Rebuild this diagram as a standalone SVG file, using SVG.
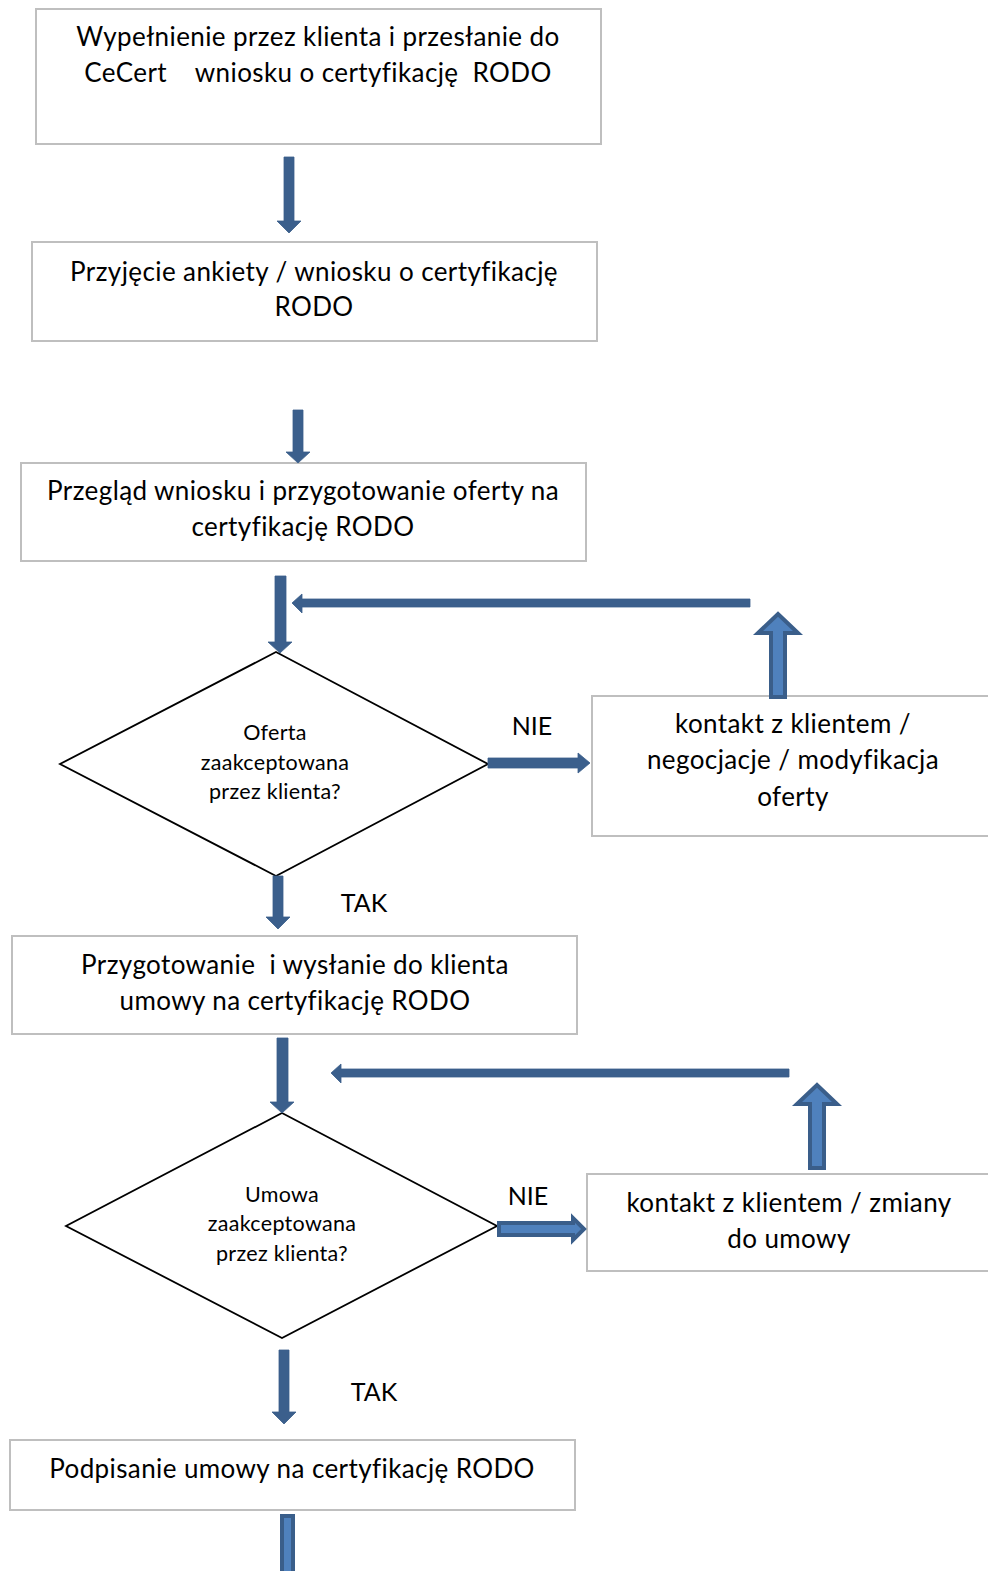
<svg xmlns="http://www.w3.org/2000/svg" width="988" height="1571" viewBox="0 0 988 1571">
<style>
.box{fill:#fff;stroke:#bfbfbf;stroke-width:2}
.dia{fill:#fff;stroke:#000;stroke-width:1.8}
.t{font-family:Lato,"Liberation Sans",sans-serif;font-size:26px;letter-spacing:0.4px;fill:#000;text-anchor:middle}
.l{font-family:Lato,"Liberation Sans",sans-serif;font-size:25px;fill:#000;text-anchor:middle}
.s{font-family:Lato,"Liberation Sans",sans-serif;font-size:21.5px;letter-spacing:0.3px;fill:#000;text-anchor:middle}
.a{fill:#3b5f8c;stroke:#3a5e8a;stroke-width:0.8}
.o{fill:#4f81bd;stroke:#3a5e8a;stroke-width:4;stroke-linejoin:miter}
</style>
<rect width="988" height="1571" fill="#fff"/>
<g id="n1"><rect class="box" x="36" y="9" width="565" height="135"/>
<text class="t" x="318" y="46">Wypełnienie przez klienta i przesłanie do</text>
<text class="t" x="318" y="82" xml:space="preserve">CeCert    wniosku o certyfikację  RODO</text></g>
<g id="n2"><rect class="box" x="32" y="242" width="565" height="99"/>
<text class="t" x="314" y="281">Przyjęcie ankiety / wniosku o certyfikację</text>
<text class="t" x="314" y="316">RODO</text></g>
<g id="n3"><rect class="box" x="21" y="463" width="565" height="98"/>
<text class="t" x="303" y="500">Przegląd wniosku i przygotowanie oferty na</text>
<text class="t" x="303" y="536">certyfikację RODO</text></g>
<g id="d1"><polygon class="dia" points="276,652 488,764 276,876 60,764"/>
<text class="s" x="275" y="740">Oferta</text>
<text class="s" x="275" y="770">zaakceptowana</text>
<text class="s" x="275" y="799">przez klienta?</text></g>
<g id="n4"><rect class="box" x="592" y="696" width="400" height="140"/>
<text class="t" x="793" y="733">kontakt z klientem /</text>
<text class="t" x="793" y="769">negocjacje / modyfikacja</text>
<text class="t" x="793" y="806">oferty</text></g>
<g id="n5"><rect class="box" x="12" y="936" width="565" height="98"/>
<text class="t" x="295" y="974" xml:space="preserve">Przygotowanie  i wysłanie do klienta</text>
<text class="t" x="295" y="1010">umowy na certyfikację RODO</text></g>
<g id="d2"><polygon class="dia" points="282,1113 497,1226 282,1338 66,1226"/>
<text class="s" x="282" y="1202">Umowa</text>
<text class="s" x="282" y="1231">zaakceptowana</text>
<text class="s" x="282" y="1261">przez klienta?</text></g>
<g id="n6"><rect class="box" x="587" y="1174" width="405" height="97"/>
<text class="t" x="789" y="1212">kontakt z klientem / zmiany</text>
<text class="t" x="789" y="1248">do umowy</text></g>
<g id="n7"><rect class="box" x="10" y="1440" width="565" height="70"/>
<text class="t" x="292" y="1478">Podpisanie umowy na certyfikację RODO</text></g>
<g id="labels">
<text class="l" x="532" y="735">NIE</text>
<text class="l" x="364" y="912">TAK</text>
<text class="l" x="528" y="1205">NIE</text>
<text class="l" x="374" y="1401">TAK</text>
</g>
<g id="connectors">
<polygon class="a" points="284,157 294,157 294,221 301,221 289,233 277,221 284,221"/>
<polygon class="a" points="293,410 303,410 303,452 310,452 298,463 286,452 293,452"/>
<polygon class="a" points="275,576 286,576 286,642 292,642 280,653 268,642 275,642"/>
<polygon class="a" points="750,599 750,607 302,607 302,613 292,603 302,594 302,599"/>
<polygon class="o" points="771,697 785,697 785,633 798,633 778,614 758,633 771,633"/>
<polygon class="a" points="488,758 578,758 578,753 590,763 578,773 578,768 488,768"/>
<polygon class="a" points="273,876 283,876 283,917 290,917 278,929 266,917 273,917"/>
<polygon class="a" points="277,1038 288,1038 288,1102 294,1102 282,1113 270,1102 277,1102"/>
<polygon class="a" points="789,1069 789,1077 341,1077 341,1083 331,1073 341,1064 341,1069"/>
<polygon class="o" points="810,1168 824,1168 824,1104 837,1104 817,1085 797,1104 810,1104"/>
<polygon class="o" points="499,1223 573,1223 573,1218 584,1229 573,1240 573,1235 499,1235"/>
<polygon class="a" points="279,1350 289,1350 289,1412 296,1412 284,1424 272,1412 279,1412"/>
<polygon class="o" points="282,1516 293,1516 293,1575 282,1575"/>
</g>
</svg>
